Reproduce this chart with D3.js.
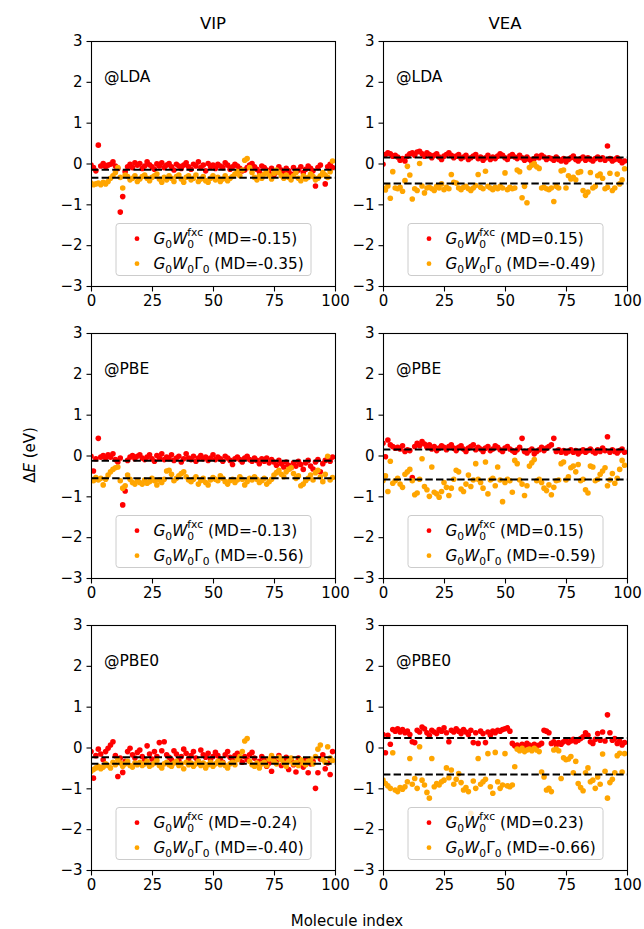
<!DOCTYPE html>
<html>
<head>
<meta charset="utf-8">
<script src="https://cdn.jsdelivr.net/npm/d3@7"></script>
<style>
  body { margin: 0; background: #fff; }
  svg text { font-family: "DejaVu Sans", sans-serif; }
</style>
</head>
<body>
<svg id="chart" width="644" height="929"></svg>
<script>
// chart data

var columns = ["VIP", "VEA"];
var functionals = ["@LDA", "@PBE", "@PBE0"];
var xTicks = [0, 25, 50, 75, 100];
var yTicks = [3, 2, 1, 0, -1, -2, -3];

// mean deviations, one per panel: [row][column]
var mdFxc = [[-0.15, 0.15], [-0.13, 0.15], [-0.24, 0.23]];
var mdGamma = [[-0.35, -0.49], [-0.56, -0.59], [-0.40, -0.66]];

var ldaVipFxc = [
  -0.04,-0.10,-0.18,0.45,-0.06,0.00,-0.08,-0.04,-0.02,0.04,
  -0.06,-0.12,-1.19,-0.81,-0.20,-0.08,-0.02,-0.10,0.02,-0.04,
  0.00,-0.12,-0.06,0.04,-0.03,-0.08,-0.14,-0.01,-0.06,0.02,
  -0.10,-0.04,0.00,-0.08,-0.16,-0.02,-0.06,-0.12,-0.04,0.02,
  -0.08,-0.14,-0.02,-0.06,0.04,-0.10,-0.04,-0.18,0.00,-0.08,
  -0.04,-0.12,-0.02,-0.06,-0.10,0.02,-0.04,-0.14,-0.08,-0.02,
  -0.06,-0.12,-0.18,-0.16,-0.10,-0.04,0.00,-0.08,-0.14,-0.20,
  -0.06,-0.10,-0.16,-0.24,-0.12,-0.28,-0.20,-0.08,-0.16,-0.24,
  -0.12,-0.18,-0.26,-0.10,-0.20,-0.16,-0.08,-0.22,-0.14,-0.06,
  -0.12,-0.18,-0.55,-0.10,-0.04,-0.26,-0.50,-0.08,-0.02,-0.10
];
var ldaVipGamma = [
  -0.48,-0.52,-0.50,-0.48,-0.52,-0.46,-0.50,-0.44,-0.36,-0.30,
  -0.22,-0.10,-0.34,-0.60,-0.28,-0.32,-0.40,-0.36,-0.30,-0.44,
  -0.38,-0.32,-0.28,-0.36,-0.42,-0.34,-0.30,-0.26,-0.38,-0.46,
  -0.34,-0.40,-0.30,-0.36,-0.44,-0.32,-0.28,-0.38,-0.46,-0.34,
  -0.30,-0.40,-0.36,-0.28,-0.44,-0.38,-0.32,-0.42,-0.46,-0.36,
  -0.30,-0.40,-0.34,-0.44,-0.38,-0.30,-0.42,-0.36,-0.32,-0.26,
  -0.20,-0.30,-0.16,0.08,0.12,-0.10,-0.22,-0.34,-0.40,-0.30,
  -0.36,-0.26,-0.20,-0.30,-0.38,-0.24,-0.16,-0.22,-0.30,-0.36,
  -0.28,-0.34,-0.40,-0.30,-0.22,-0.36,-0.42,-0.30,-0.38,-0.34,
  -0.26,-0.32,-0.40,-0.36,-0.30,-0.22,-0.28,-0.34,-0.20,0.06
];
var ldaVeaFxc = [
  -0.02,0.22,0.26,0.24,0.18,0.20,0.16,0.08,0.12,0.06,
  0.18,0.24,0.26,0.20,0.28,0.30,0.24,0.18,0.26,0.22,
  0.14,0.20,0.24,0.16,0.10,0.18,0.22,0.26,0.20,0.14,
  0.18,0.22,0.12,0.16,0.20,0.10,0.14,0.18,0.22,0.12,
  0.16,0.08,0.14,0.20,0.10,0.16,0.12,0.18,0.24,0.20,
  0.14,0.10,0.18,0.22,0.16,0.12,0.20,0.14,0.08,0.16,
  0.10,0.04,0.12,0.18,0.14,0.20,0.16,0.10,0.14,0.12,
  0.08,0.16,0.10,0.06,0.12,0.04,0.10,0.14,0.18,0.10,
  0.06,0.12,0.16,0.08,0.14,0.10,0.06,0.12,0.16,0.10,
  0.14,0.08,0.43,0.12,0.06,0.10,0.14,0.08,0.02,0.06
];
var ldaVeaGamma = [
  -0.60,-0.65,-0.55,-0.85,-0.20,-0.60,-0.62,-0.58,-0.68,-0.42,
  -0.07,-0.28,-0.87,-0.62,-0.66,0.00,-0.55,-0.72,-0.60,-0.58,
  -0.62,-0.66,-0.56,-0.60,-0.50,-0.64,-0.58,-0.62,-0.27,-0.46,
  -0.48,-0.60,-0.64,-0.58,-0.56,-0.62,-0.66,-0.60,-0.54,-0.27,
  -0.58,-0.62,-0.19,-0.56,-0.60,-0.64,-0.58,-0.62,-0.56,-0.60,
  -0.23,-0.64,-0.58,-0.62,-0.60,-0.16,-0.20,-0.84,-0.56,-0.96,
  -0.10,-0.04,0.00,-0.08,-0.12,-0.60,-0.58,-0.62,-0.64,-0.60,
  -0.93,-0.56,-0.60,-0.18,-0.16,-0.60,-0.30,-0.38,-0.34,-0.40,
  -0.22,-0.20,-0.66,-0.78,-0.70,-0.22,-0.60,-0.56,-0.30,-0.26,
  -0.36,-0.62,-0.58,-0.24,-0.66,-0.60,-0.26,-0.50,-0.40,-0.13
];
var pbeVipFxc = [
  -0.02,-0.38,-0.08,0.42,-0.04,0.00,-0.06,0.02,-0.04,0.04,
  -0.10,-0.16,-0.06,-1.21,-0.87,-0.12,-0.04,0.00,-0.08,-0.02,
  0.02,-0.06,-0.10,-0.04,0.02,-0.08,-0.14,0.00,-0.06,0.04,
  -0.10,-0.04,-0.08,0.02,-0.12,-0.06,-0.02,-0.16,-0.08,0.04,
  -0.06,-0.10,-0.02,-0.14,-0.06,0.00,-0.08,-0.04,-0.12,-0.06,
  0.02,-0.10,-0.04,-0.08,-0.14,-0.02,-0.06,-0.12,-0.22,-0.08,
  -0.04,-0.10,-0.16,-0.06,-0.02,-0.10,-0.14,-0.06,-0.12,-0.20,
  -0.08,-0.14,-0.06,-0.18,-0.10,-0.16,-0.24,-0.12,-0.20,-0.28,
  -0.16,-0.24,-0.30,-0.18,-0.26,-0.14,-0.22,-0.34,-0.18,-0.12,
  -0.26,-0.33,-0.16,-0.10,-0.40,-0.20,-0.12,-0.08,-0.14,-0.04
];
var pbeVipGamma = [
  -0.58,-0.62,-0.54,-0.60,-0.56,-0.72,-0.58,-0.48,-0.40,-0.34,
  -0.30,-0.28,-0.62,-0.80,-0.74,-0.48,-0.58,-0.66,-0.70,-0.62,
  -0.66,-0.70,-0.60,-0.68,-0.64,-0.56,-0.62,-0.72,-0.60,-0.66,
  -0.58,-0.38,-0.36,-0.46,-0.62,-0.56,-0.50,-0.44,-0.40,-0.52,
  -0.60,-0.64,-0.58,-0.52,-0.70,-0.62,-0.56,-0.66,-0.72,-0.60,
  -0.54,-0.58,-0.62,-0.50,-0.56,-0.64,-0.70,-0.62,-0.58,-0.66,
  -0.60,-0.52,-0.58,-0.72,-0.64,-0.56,-0.60,-0.52,-0.58,-0.66,
  -0.62,-0.56,-0.70,-0.64,-0.58,-0.48,-0.42,-0.36,-0.46,-0.52,
  -0.40,-0.34,-0.30,-0.44,-0.56,-0.50,-0.74,-0.70,-0.62,-0.56,
  -0.48,-0.60,-0.42,-0.36,-0.52,-0.64,-0.46,-0.02,-0.60,-0.54
];
var pbeVeaFxc = [
  0.30,-0.03,0.38,0.26,0.22,0.18,0.20,0.16,0.24,0.10,
  0.14,0.12,-0.54,0.22,0.30,0.24,0.34,0.28,0.20,0.26,
  0.16,0.22,0.12,0.18,0.24,0.20,0.14,0.22,0.26,0.18,
  0.12,0.20,0.24,0.16,0.10,0.18,0.22,0.26,0.14,0.20,
  0.16,0.10,0.18,0.22,0.12,0.16,0.24,0.20,0.14,0.10,
  0.18,0.22,0.16,0.12,0.08,0.14,0.20,0.42,0.10,0.06,
  0.12,0.16,0.04,0.10,0.14,0.20,0.12,0.18,0.22,0.26,
  0.42,0.10,0.14,0.08,0.12,0.06,0.10,0.14,0.08,0.12,
  0.04,0.10,0.14,0.08,0.12,0.16,0.10,0.06,0.14,0.10,
  0.18,0.12,0.46,0.08,0.14,0.10,0.06,0.12,0.16,0.08
];
var pbeVeaGamma = [
  -0.62,-0.50,-0.88,-0.14,-0.68,-0.62,-0.56,-0.70,-0.78,-0.46,
  -0.40,-0.34,-0.62,-0.96,-0.92,-0.58,-0.08,-0.76,-0.84,-1.00,
  -0.28,-0.90,-0.94,-1.02,-0.88,-0.66,-0.78,-0.98,-0.80,-0.58,
  -0.36,-0.40,-0.82,-0.88,-0.70,-0.48,-0.76,-0.60,-0.20,-0.58,
  -0.66,-0.80,-0.16,-0.94,-0.60,-0.56,-0.74,-0.28,-0.60,-1.13,
  -0.66,-0.58,-0.62,-0.90,-0.12,-0.20,-0.60,-0.70,-0.98,-0.74,
  -0.26,-0.18,-0.10,-0.62,-0.58,-0.66,-0.80,-0.86,-0.72,-0.96,
  -0.78,-0.62,-0.60,-0.20,-0.16,-0.60,-0.52,-0.30,-0.26,-0.40,
  -0.22,-0.62,-0.58,-0.84,-0.92,-0.26,-0.28,-0.62,-0.58,-0.46,
  -0.38,-0.30,-0.74,-0.60,-0.44,-0.68,-0.56,-0.34,-0.12,-0.24
];
var pbe0VipFxc = [
  -0.10,-0.75,-0.20,-0.04,-0.16,-0.30,-0.10,-0.02,0.06,0.14,
  -0.20,-0.71,-0.26,-0.61,-0.34,-0.10,-0.02,-0.18,-0.26,-0.12,
  -0.06,-0.22,-0.30,0.04,-0.16,-0.28,-0.10,-0.22,0.12,-0.08,
  0.14,-0.18,-0.24,-0.30,-0.08,-0.16,-0.32,-0.22,-0.04,-0.14,
  -0.28,-0.20,-0.10,-0.26,-0.34,-0.06,-0.18,-0.24,-0.14,-0.30,
  -0.22,-0.12,-0.20,-0.28,-0.36,-0.18,-0.10,-0.24,-0.32,-0.20,
  -0.14,-0.26,-0.36,-0.22,-0.30,-0.18,-0.12,-0.26,-0.40,-0.34,
  -0.22,-0.30,-0.46,-0.38,-0.58,-0.28,-0.36,-0.20,-0.44,-0.30,
  -0.24,-0.54,-0.32,-0.42,-0.60,-0.26,-0.36,-0.48,-0.30,-0.62,
  -0.40,-0.34,-1.00,-0.62,-0.28,-0.18,-0.52,-0.38,-0.66,-0.10
];
var pbe0VipGamma = [
  -0.58,-0.54,-0.50,-0.46,-0.52,-0.48,-0.40,-0.44,-0.50,-0.36,
  -0.42,-0.30,-0.38,-0.46,-0.40,-0.34,-0.44,-0.48,-0.38,-0.42,
  -0.36,-0.44,-0.40,-0.34,-0.46,-0.42,-0.38,-0.32,-0.44,-0.50,
  -0.40,-0.36,-0.42,-0.46,-0.38,-0.34,-0.44,-0.40,-0.52,-0.36,
  -0.42,-0.38,-0.46,-0.40,-0.34,-0.44,-0.38,-0.50,-0.42,-0.36,
  -0.46,-0.40,-0.34,-0.42,-0.38,-0.44,-0.50,-0.40,-0.36,-0.42,
  -0.30,-0.22,-0.10,0.16,0.22,-0.34,-0.42,-0.46,-0.38,-0.50,
  -0.40,-0.36,-0.44,-0.28,-0.20,-0.34,-0.40,-0.24,-0.30,-0.38,
  -0.46,-0.34,-0.26,-0.40,-0.36,-0.44,-0.30,-0.38,-0.42,-0.34,
  -0.28,-0.40,-0.22,-0.04,0.06,-0.30,-0.36,0.02,-0.26,-0.32
];
var pbe0VeaFxc = [
  0.32,-0.13,0.30,0.08,0.44,0.40,0.46,0.38,0.44,0.36,
  0.40,0.32,0.14,0.12,0.42,0.38,0.50,0.46,0.36,0.30,
  0.42,0.38,0.34,0.44,0.40,0.48,0.36,0.14,0.42,0.38,
  0.46,0.40,0.34,0.44,0.38,0.32,0.42,0.12,0.36,0.10,
  0.40,0.34,0.12,0.38,0.30,0.40,0.36,0.42,0.40,0.44,
  0.46,0.48,0.40,0.10,0.04,0.06,0.02,0.08,0.04,0.10,
  0.06,0.02,0.08,0.04,0.06,0.10,0.42,0.40,0.36,0.10,
  0.14,0.06,0.12,0.08,0.14,0.18,0.12,0.16,0.20,0.14,
  0.18,0.22,0.26,0.36,0.30,0.14,0.10,0.20,0.34,0.18,
  0.38,0.16,0.80,0.36,0.18,0.22,0.10,0.16,0.06,0.12
];
var pbe0VeaGamma = [
  -0.80,-0.88,-0.94,-1.00,-0.13,-1.04,-1.08,-0.98,-1.02,-0.96,
  -0.84,-0.27,-0.90,-0.76,-1.00,0.02,-0.80,-0.92,-1.10,-1.24,
  -0.27,-0.96,-0.88,-0.92,-0.84,-0.80,-0.50,-0.74,-0.55,-0.90,
  -0.78,-0.64,-0.86,-1.04,-0.98,-1.08,-1.61,-0.82,-1.00,-0.27,
  -0.90,-0.84,-0.78,-0.15,-0.96,-1.12,-0.12,-0.84,-1.00,-0.92,
  -0.15,-0.94,-0.96,-0.92,-0.47,-0.04,-0.08,-0.02,-0.10,-0.06,
  -0.04,-0.08,-0.02,-0.06,-0.10,-0.60,-0.72,-1.04,-1.00,-1.08,
  -0.06,-0.04,-0.08,-0.76,-0.25,-0.30,-0.28,-0.22,-0.62,-0.34,
  -0.88,-0.98,-1.06,-0.62,-0.50,-0.84,-0.80,-1.00,-0.72,-0.90,
  -0.16,-0.58,-1.24,-0.86,-0.78,-0.62,-0.20,-0.14,-0.60,-0.15
];

// [row][column] lookup of the series
var fxcSeries = [[ldaVipFxc, ldaVeaFxc], [pbeVipFxc, pbeVeaFxc], [pbe0VipFxc, pbe0VeaFxc]];
var gammaSeries = [[ldaVipGamma, ldaVeaGamma], [pbeVipGamma, pbeVeaGamma], [pbe0VipGamma, pbe0VeaGamma]];

// Layout
var ColLeft = [91, 383], PanelWidth = 244;
var RowTop = [41, 333, 625], PanelHeight = 245;
var Red = "#ff0000", Orange = "#ffa500";
var TickFont = "15px", LegendFont = "15.3px", SubFont = "10.7px";

var svg = d3.select("#chart");

function fmtTick(v) {
  return v < 0 ? "\u2212" + Math.abs(v) : String(v);
}

function mdLabel(v) {
  return " (MD=" + v.toFixed(2) + ")";
}

function addMathLabel(sel, kind, md) {
  // G_0 W_0^fxc  or  G_0 W_0 Gamma_0, matplotlib mathtext style
  sel.append("tspan").style("font-style", "italic").text("G");
  sel.append("tspan").attr("dy", 3.4).style("font-size", SubFont).text("0");
  sel.append("tspan").attr("dy", -3.4).style("font-style", "italic").text("W");
  if (kind === "fxc") {
    sel.append("tspan").attr("dy", 3.4).style("font-size", SubFont).text("0");
    // superscript sits above the subscript, so step back over it
    sel.append("tspan").attr("dx", -6.8).attr("dy", -11.4).style("font-size", SubFont).text("fxc");
    sel.append("tspan").attr("dy", 8).text(mdLabel(md));
  } else {
    sel.append("tspan").attr("dy", 3.4).style("font-size", SubFont).text("0");
    sel.append("tspan").attr("dy", -3.4).text("\u0393");
    sel.append("tspan").attr("dy", 3.4).style("font-size", SubFont).text("0");
    sel.append("tspan").attr("dy", -3.4).text(mdLabel(md));
  }
}

function makePanel(row, col) {
  var x0 = ColLeft[col], y0 = RowTop[row];
  var x = d3.scaleLinear().domain([0, 100]).range([x0, x0 + PanelWidth]);
  var y = d3.scaleLinear().domain([-3, 3]).range([y0 + PanelHeight, y0]);
  var g = svg.append("g");

  // clip so nothing leaks past the frame
  var clipId = "clip" + row + col;
  g.append("clipPath").attr("id", clipId).append("rect")
    .attr("x", x0).attr("y", y0).attr("width", PanelWidth).attr("height", PanelHeight);
  var plot = g.append("g").attr("clip-path", "url(#" + clipId + ")");

  var fxc = fxcSeries[row][col], gam = gammaSeries[row][col];

  plot.selectAll("circle.fxc")
    .data(fxc).enter().append("circle")
      .attr("class", "fxc")
      .attr("cx", function(d, i) { return x(i); })
      .attr("cy", function(d) { return y(d); })
      .attr("r", 2.8)
      .style("fill", Red);

  plot.selectAll("circle.gam")
    .data(gam).enter().append("circle")
      .attr("class", "gam")
      .attr("cx", function(d, i) { return x(i); })
      .attr("cy", function(d) { return y(d); })
      .attr("r", 2.8)
      .style("fill", Orange);

  // mean deviation lines
  plot.selectAll("line.md")
    .data([mdFxc[row][col], mdGamma[row][col]]).enter().append("line")
      .attr("x1", x(0)).attr("x2", x(100))
      .attr("y1", function(d) { return y(d); })
      .attr("y2", function(d) { return y(d); })
      .style("stroke", "#000")
      .style("stroke-width", 2)
      .style("stroke-dasharray", "7.4,3.2");

  // axes
  var yAxis = d3.axisLeft(y).tickValues(yTicks).tickFormat(fmtTick).tickSize(5).tickPadding(4);
  var xAxis = d3.axisBottom(x).tickValues(xTicks).tickFormat(fmtTick).tickSize(5).tickPadding(4);
  var ya = g.append("g").attr("transform", "translate(" + (x0 + 0.5) + ",0)").call(yAxis);
  var xa = g.append("g").attr("transform", "translate(0," + (y0 + PanelHeight + 0.5) + ")").call(xAxis);
  [ya, xa].forEach(function(a) {
    a.select(".domain").remove();
    a.selectAll("line").style("stroke", "#000").style("stroke-width", 1.1);
    a.selectAll("text").style("font-size", TickFont).style("fill", "#000")
      .style("font-family", "DejaVu Sans, sans-serif");
  });

  // frame
  g.append("rect")
    .attr("x", x0 + 0.5).attr("y", y0 + 0.5)
    .attr("width", PanelWidth).attr("height", PanelHeight)
    .style("fill", "none").style("stroke", "#000").style("stroke-width", 1.1);

  // functional label
  g.append("text")
    .attr("x", x0 + 13).attr("y", y0 + 41)
    .style("font-size", "15.5px")
    .text(functionals[row]);

  // legend, lower centre
  var lw = 195, lh = 52;
  var lx = x0 + (PanelWidth - lw) / 2, ly = y0 + PanelHeight - 11 - lh;
  var leg = g.append("g");
  leg.append("rect")
    .attr("x", lx + 0.5).attr("y", ly + 0.5).attr("width", lw).attr("height", lh)
    .attr("rx", 3)
    .style("fill", "#fff").style("fill-opacity", 0.8)
    .style("stroke", "#cccccc").style("stroke-width", 1);
  var items = [
    { kind: "fxc", color: Red, md: mdFxc[row][col], cy: ly + 15.7 },
    { kind: "gam", color: Orange, md: mdGamma[row][col], cy: ly + 40.7 }
  ];
  items.forEach(function(it) {
    leg.append("circle").attr("cx", lx + 21.5).attr("cy", it.cy).attr("r", 2.4).style("fill", it.color);
    var t = leg.append("text").attr("x", lx + 38).attr("y", it.cy + 5.5).style("font-size", LegendFont);
    addMathLabel(t, it.kind, it.md);
  });
}

for (var r = 0; r < 3; r++) {
  for (var c = 0; c < 2; c++) {
    makePanel(r, c);
  }
}

// column titles
svg.selectAll("text.title")
  .data(columns).enter().append("text")
    .attr("class", "title")
    .attr("x", function(d, i) { return ColLeft[i] + PanelWidth / 2; })
    .attr("y", 29)
    .attr("text-anchor", "middle")
    .style("font-size", "16.5px")
    .text(function(d) { return d; });

// shared axis labels
var yl = svg.append("text")
  .attr("transform", "translate(35,455) rotate(-90)")
  .attr("text-anchor", "middle")
  .style("font-size", "15px");
yl.append("tspan").text("\u0394");
yl.append("tspan").style("font-style", "italic").text("E");
yl.append("tspan").text(" (eV)");

svg.append("text")
  .attr("x", 347).attr("y", 926)
  .attr("text-anchor", "middle")
  .style("font-size", "15px")
  .text("Molecule index");
</script>
</body>
</html>
